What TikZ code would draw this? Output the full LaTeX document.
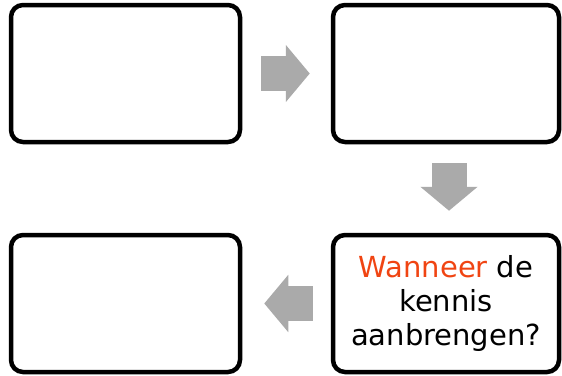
\documentclass[tikz,border=0pt]{standalone}
\usepackage{fontspec}
\setmainfont{DejaVu Sans}
\usepackage{xcolor}
\usetikzlibrary{positioning,arrows.meta}
\definecolor{accent}{RGB}{240,68,18}
\definecolor{pijlgrijs}{RGB}{170,170,170}

\begin{document}
\begin{tikzpicture}[x=1pt, y=-1pt, node distance=88.5pt]
\tikzset{
    card/.style={rectangle, rounded corners=12pt, draw=black, line width=4.5pt, align=center, minimum width=229pt, minimum height=137pt, font=\fontsize{29}{34}\selectfont},
    arrow/.style={draw=pijlgrijs, line width=35pt, -{Triangle[length=24pt, width=56pt]}}
}
\useasboundingbox (0,0) rectangle (562,375);
\node[card] (kaart1) at (125.5,73.5) {};
\node[card, minimum width=226pt, right=of kaart1] (kaart2) {};
\node[card, below=of kaart1] (kaart3) {};
\node[card, minimum width=226pt, below=of kaart2] (kaart4) {{\color{accent}Wanneer} de\\kennis\\aanbrengen?};

\draw[arrow, shorten <=19pt, shorten >=21pt] (kaart1) -- (kaart2);
\draw[arrow, shorten <=19pt, shorten >=22pt] ([xshift=3pt]kaart2.south) -- ([xshift=3pt]kaart4.north);
\draw[arrow, shorten <=18pt, shorten >=22pt] (kaart4) -- (kaart3);
\end{tikzpicture}
\end{document}
